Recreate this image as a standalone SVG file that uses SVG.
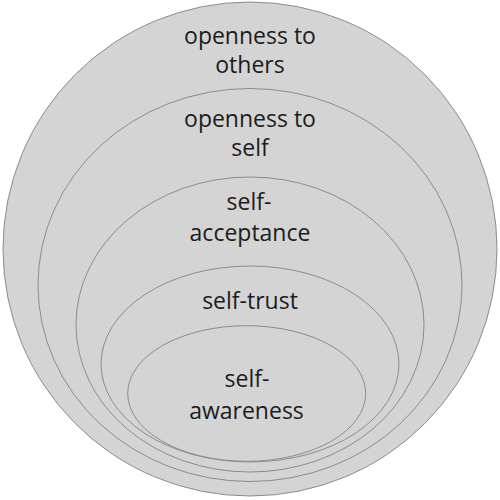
<svg xmlns="http://www.w3.org/2000/svg" width="500" height="500" viewBox="0 0 500 500">
<style>
.shape{fill:#d4d4d4;stroke:#8c8c8c;stroke-width:1}
.lbl{font-family:"Open Sans","Noto Sans",sans-serif;font-size:23px;fill:#1c1c1c;text-anchor:middle}
</style>
<rect width="500" height="500" fill="#ffffff"/>
<g id="openness-to-others">
<circle class="shape" cx="250" cy="249" r="247" stroke="#9a9a9a"/>
<text class="lbl" x="250" y="44">openness to</text>
<text class="lbl" x="250" y="73">others</text>
</g>
<g id="openness-to-self">
<ellipse class="shape" cx="250" cy="285" rx="212" ry="196.5"/>
<text class="lbl" x="250" y="127">openness to</text>
<text class="lbl" x="250" y="156">self</text>
</g>
<g id="self-acceptance">
<ellipse class="shape" cx="250" cy="324.5" rx="174" ry="147.5"/>
<text class="lbl" x="249" y="210">self-</text>
<text class="lbl" x="250" y="241">acceptance</text>
</g>
<g id="self-trust">
<ellipse class="shape" cx="250" cy="364" rx="149" ry="98"/>
<text class="lbl" x="250" y="309">self-trust</text>
</g>
<g id="self-awareness">
<ellipse class="shape" cx="246.7" cy="393.5" rx="119" ry="67.8"/>
<text class="lbl" x="247" y="387">self-</text>
<text class="lbl" x="246.5" y="419">awareness</text>
</g>
<g id="connectors"/>
</svg>
